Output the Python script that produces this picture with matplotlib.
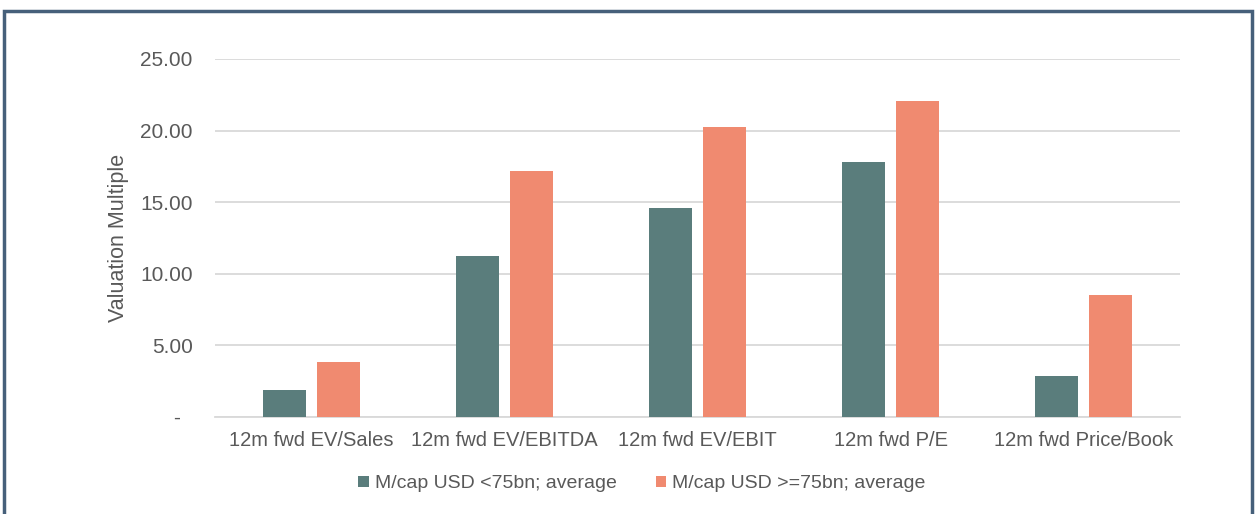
import matplotlib
matplotlib.use("Agg")
import matplotlib.pyplot as plt
import numpy as np
from matplotlib.patches import Rectangle

categories = ["12m fwd EV/Sales", "12m fwd EV/EBITDA", "12m fwd EV/EBIT", "12m fwd P/E", "12m fwd Price/Book"]
small_cap = [1.89, 11.24, 14.58, 17.78, 2.84]
large_cap = [3.84, 17.18, 20.22, 22.05, 8.50]
series_names = ["M/cap USD <75bn; average", "M/cap USD >=75bn; average"]
yticks = [0, 5, 10, 15, 20, 25]
ytick_labels = ["-  ", "5.00", "10.00", "15.00", "20.00", "25.00"]

plt.rcParams['font.family'] = ['Liberation Sans', 'DejaVu Sans']
txt = "#595959"

fig = plt.figure(figsize=(12.58, 5.14), dpi=100)
ax = fig.add_axes([215/1258, (514-417)/514, (1180-215)/1258, (417-59)/514])

x = np.arange(len(categories))
w = 0.22
ax.bar(x - 0.14, small_cap, w, color="#5a7d7c", label=series_names[0], zorder=3)
ax.bar(x + 0.14, large_cap, w, color="#f08a70", label=series_names[1], zorder=3)

ax.set_xlim(-0.5, len(categories) - 0.5)
ax.set_ylim(0, 25)
ax.set_yticks(yticks)
ax.set_yticklabels(ytick_labels, fontsize=15, color=txt)
ax.set_xticks(x)
ax.set_xticklabels(categories, fontsize=14.5, color=txt)
ax.tick_params(axis='both', length=0)
ax.tick_params(axis='y', pad=16)
ax.tick_params(axis='x', pad=10)
ax.yaxis.grid(True, color="#d9d9d9", linewidth=1.3, zorder=0)
for s in ["top", "right", "left"]:
    ax.spines[s].set_visible(False)
ax.spines["bottom"].set_color("#d9d9d9")
ax.spines["bottom"].set_linewidth(1.3)
ax.set_ylabel("Valuation Multiple", fontsize=15.5, color=txt, labelpad=8)

leg = fig.legend(loc="center", bbox_to_anchor=(642/1258, 1 - 484/514), ncol=2, frameon=False,
                 fontsize=14, handlelength=0.55, handleheight=0.55, handletextpad=0.3, columnspacing=2.0)
for t in leg.get_texts():
    t.set_color(txt)

border = Rectangle((4/1258, -0.05), (1252-4)/1258, (1 - 11/514) + 0.05, transform=fig.transFigure,
                   fill=False, edgecolor="#46607a", linewidth=2.5, clip_on=False)
fig.patches.append(border)

fig.savefig("out.png", dpi=100)
